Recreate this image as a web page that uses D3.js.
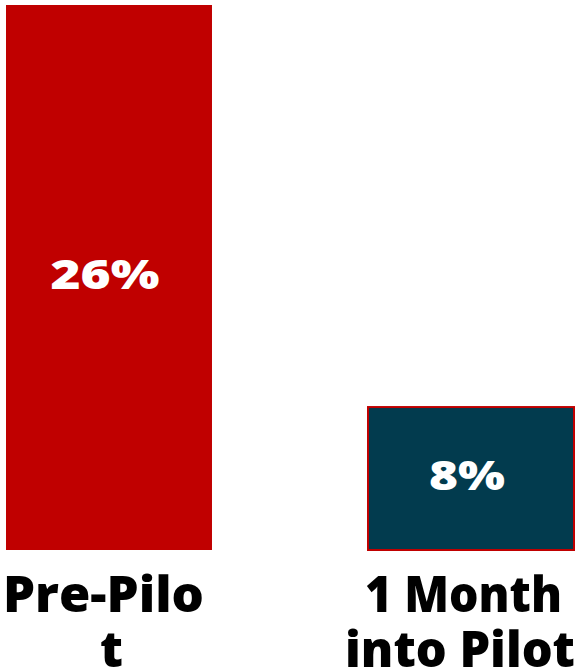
<!DOCTYPE html>
<html>
<head>
<meta charset="utf-8">
<script src="https://cdn.jsdelivr.net/npm/d3@7"></script>
<style>
  body { margin: 0; background: #fff; }
  text { font-family: "Open Sans", sans-serif; font-weight: 800; }
</style>
</head>
<body>
<div id="chart"></div>
<script>
const categories = ["Pre-Pilot", "1 Month into Pilot"];
const labelLines = [["Pre-Pilo", "t"], ["1 Month", "into Pilot"]];
const values = [26, 8];
const valueLabels = ["26%", "8%"];

const width = 580;
const height = 669;
const colors = ["#C00000", "#023B4E"];

// text widths / nudges so the Open Sans glyphs take the same room as the original font
const valueWidths = [109, 76];
const lineWidths = [[201, null], [197, 230]];
const lineNudge = [[-5.5, 2.5], [-7.5, -11]];

const svg = d3.select("#chart")
  .append("svg")
  .attr("width", width)
  .attr("height", height);

// Scales
const xScale = d3.scaleBand()
  .domain(categories)
  .range([6, 574])
  .paddingInner(0.431)
  .paddingOuter(0);

const yScale = d3.scaleLinear()
  .domain([1.6, 26])
  .range([550, 5]);

const baseY = yScale.range()[0];
const mid = c => xScale(c) + xScale.bandwidth() / 2;

// Bars
svg.selectAll("rect.bar")
  .data(values)
  .enter()
  .append("rect")
  .attr("class", "bar")
  .attr("x", (d, i) => xScale(categories[i]))
  .attr("y", d => yScale(d))
  .attr("width", xScale.bandwidth())
  .attr("height", d => baseY - yScale(d))
  .attr("fill", (d, i) => colors[i])
  .attr("stroke", (d, i) => i === 1 ? "#C00000" : "none")
  .attr("stroke-width", 2);

// Value labels
svg.selectAll("text.value")
  .data(values)
  .enter()
  .append("text")
  .attr("class", "value")
  .attr("x", (d, i) => mid(categories[i]) - 4)
  .attr("y", d => (yScale(d) + baseY) / 2 + 11.5)
  .attr("text-anchor", "middle")
  .attr("fill", "#fff")
  .attr("font-size", 41)
  .attr("textLength", (d, i) => valueWidths[i])
  .attr("lengthAdjust", "spacingAndGlyphs")
  .text((d, i) => valueLabels[i]);

// Category labels, one text per line
const lines = [];
categories.forEach((c, i) => {
  labelLines[i].forEach((t, j) => {
    lines.push({ c, t, j, w: lineWidths[i][j], dx: lineNudge[i][j] });
  });
});

svg.selectAll("text.cat")
  .data(lines)
  .enter()
  .append("text")
  .attr("class", "cat")
  .attr("text-anchor", "middle")
  .attr("font-size", 50)
  .attr("fill", "#000")
  .attr("x", d => mid(d.c) + d.dx)
  .attr("y", d => 612 + d.j * 55)
  .each(function(d) {
    if (d.w) {
      d3.select(this)
        .attr("textLength", d.w)
        .attr("lengthAdjust", "spacingAndGlyphs");
    }
  })
  .text(d => d.t);
</script>
</body>
</html>
